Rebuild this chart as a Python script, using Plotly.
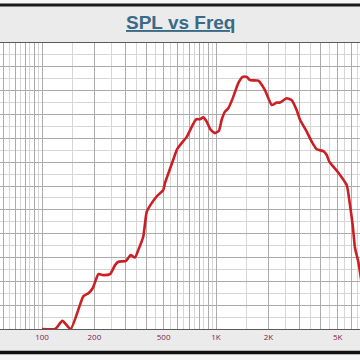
import plotly.graph_objects as go

# Frequency (Hz) and SPL (dB)
freq = [100, 119, 131, 146, 165, 173, 185, 196, 211, 225, 246, 263, 275, 304, 323, 342,
        358, 382, 400, 427, 456, 498, 509, 568, 595, 635, 679, 725, 768, 809, 845, 884,
        932, 987, 1040, 1078, 1126, 1177, 1257, 1343, 1424, 1501, 1568, 1750, 1912, 2090,
        2233, 2332, 2549, 2724, 2910, 3040, 3322, 3548, 3790, 4138, 4327, 4478, 5024, 5638,
        5890, 6105, 6294, 6574, 6904]
spl = [40.0, 40.0, 41.7, 40.0, 45.0, 46.9, 47.5, 48.6, 51.5, 51.3, 51.5, 53.4, 54.1, 54.3,
       55.5, 55.0, 56.6, 59.4, 64.6, 66.4, 67.8, 69.2, 70.6, 75.5, 77.6, 79.0, 80.3, 82.4,
       84.0, 84.0, 84.4, 83.5, 81.8, 81.1, 81.6, 83.9, 85.6, 86.3, 88.7, 91.6, 92.9, 92.9,
       92.2, 92.1, 90.1, 87.0, 87.5, 87.5, 88.4, 88.0, 85.9, 83.9, 81.4, 79.3, 77.7, 77.3,
       76.5, 75.1, 72.9, 70.2, 66.0, 61.8, 57.0, 54.1, 49.2]

tick_vals = [100, 200, 500, 1000, 2000, 5000]
tick_text = ["100", "200", "500", "1K", "2K", "5K"]

# grid positions (1-2-...-9 multiples darker, half steps lighter)
major_grid = [m * d for d in (10, 100, 1000) for m in range(1, 10) if 50 < m * d < 7000]
minor_grid = [(m + 0.5) * d for d in (10, 100, 1000) for m in range(1, 10) if 50 < (m + 0.5) * d < 7000]
label_map = dict(zip(tick_vals, tick_text))
major_text = [label_map.get(v, "") for v in major_grid]

fig = go.Figure()
fig.add_trace(go.Scatter(
    x=freq, y=spl, mode="lines",
    line=dict(color="#cc1f24", width=2.6, shape="spline", smoothing=0.5),
    cliponaxis=False, hoverinfo="skip", showlegend=False,
))

fig.update_layout(
    width=360, height=360,
    margin=dict(l=0, r=0, t=43, b=31, pad=0),
    paper_bgcolor="#ebebeb",
    plot_bgcolor="#ffffff",
    showlegend=False,
    annotations=[dict(
        text="<b><u>SPL vs Freq</u></b>", x=0.5, xref="paper", y=(329 - 23) / 286, yref="paper",
        showarrow=False, font=dict(family="Liberation Sans, Arial", size=19, color="#3b6a86"),
        xanchor="center", yanchor="middle",
    )],
    shapes=[
        dict(type="rect", xref="paper", yref="paper", x0=0, x1=1,
             y0=(329 - 0) / 286, y1=(329 - 3.5) / 286, fillcolor="#f6f6f6", line=dict(width=0), layer="below"),
        dict(type="line", xref="paper", yref="paper", x0=0, x1=1,
             y0=(329 - 5) / 286, y1=(329 - 5) / 286, line=dict(color="#1a1a1a", width=3)),
        dict(type="line", xref="paper", yref="paper", x0=0, x1=1,
             y0=(329 - 352.5) / 286, y1=(329 - 352.5) / 286, line=dict(color="#111111", width=3.5)),
        dict(type="rect", xref="paper", yref="paper", x0=0, x1=1,
             y0=(329 - 354.5) / 286, y1=(329 - 360) / 286, fillcolor="#f6f6f6", line=dict(width=0), layer="below"),
    ],
)

fig.update_xaxes(
    type="log", range=[1.75862, 3.82759],
    tickmode="array", tickvals=major_grid, ticktext=major_text,
    showgrid=True, gridcolor="#ababab", gridwidth=1,
    ticks="", tickfont=dict(family="Open Sans, Arial", size=8, color="#7d2450"),
    showline=True, linecolor="#5a5a5a", linewidth=1, mirror=True,
    zeroline=False, fixedrange=True,
    minor=dict(tickmode="array", tickvals=minor_grid, showgrid=True,
               gridcolor="#d6d6d6", gridwidth=1, ticks=""),
)
fig.update_yaxes(
    range=[40, 100], tickmode="linear", tick0=40, dtick=5,
    showticklabels=False, ticks="",
    showgrid=True, gridcolor="#ababab", gridwidth=1,
    zeroline=False, fixedrange=True,
    minor=dict(tickmode="linear", dtick=2.5, showgrid=True, gridcolor="#d6d6d6", gridwidth=1, ticks=""),
)

fig.write_html("out.html", config={"displayModeBar": False},
               post_script="document.body.style.margin='0';document.body.style.overflow='hidden';")
